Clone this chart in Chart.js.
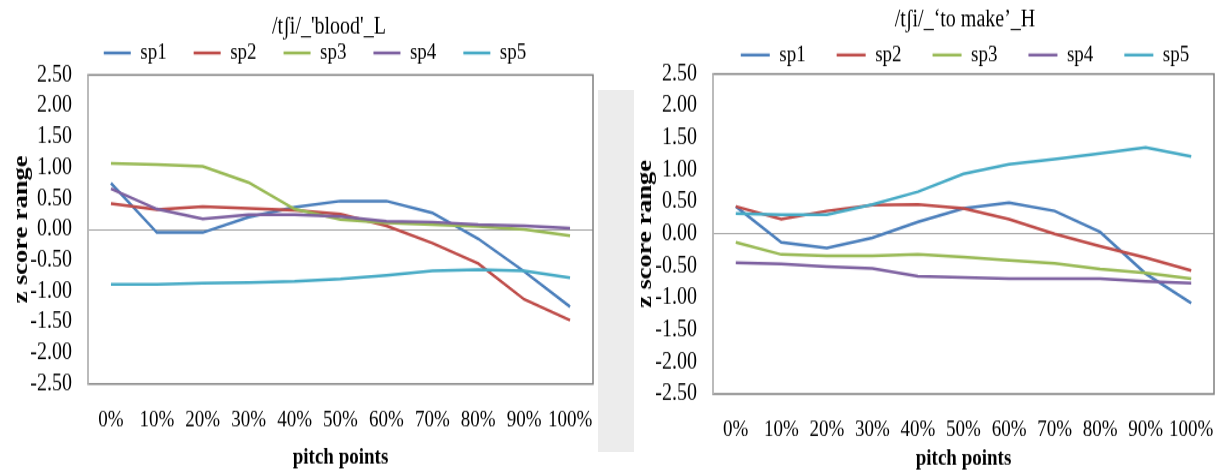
<!DOCTYPE html>
<html>
<head>
<meta charset="utf-8">
<script src="https://cdn.jsdelivr.net/npm/chart.js@4.4.0/dist/chart.umd.min.js"></script>
<style>
  html, body { margin: 0; padding: 0; background: #fff; }
  #page { position: relative; width: 1220px; height: 472px; overflow: hidden; }
  /* the reference text is stretched vertically, so the canvases are drawn short and scaled up */
  canvas { position: absolute; top: 0; transform-origin: 0 0; transform: scaleY(1.201); }
  #left { left: 0; }
  #right { left: 632px; }
  #smudge { position: absolute; left: 598px; top: 90px; width: 36px; height: 362px; background: #ececec; }
</style>
</head>
<body>
<div id="page">
  <div id="smudge"></div>
  <canvas id="left" width="650" height="393"></canvas>
  <canvas id="right" width="666" height="393"></canvas>
</div>
<script>
// 横軸ラベル
const pitchPoints = ['0%', '10%', '20%', '30%', '40%', '50%', '60%', '70%', '80%', '90%', '100%'];
const speakers = ['sp1', 'sp2', 'sp3', 'sp4', 'sp5'];
const speakerColors = ['#4a7ebb', '#be4b48', '#98b954', '#7d60a0', '#46aac5'];

// /tʃi/_'blood'_L
const bloodTitle = "/tʃi/_'blood'_L";
const bloodSp1 = [0.75, -0.05, -0.05, 0.20, 0.36, 0.46, 0.46, 0.27, -0.15, -0.68, -1.25];
const bloodSp2 = [0.42, 0.32, 0.37, 0.34, 0.31, 0.25, 0.06, -0.22, -0.55, -1.13, -1.47];
const bloodSp3 = [1.07, 1.05, 1.02, 0.76, 0.33, 0.16, 0.11, 0.08, 0.05, 0.00, -0.10];
const bloodSp4 = [0.66, 0.33, 0.17, 0.24, 0.24, 0.21, 0.13, 0.12, 0.08, 0.06, 0.02];
const bloodSp5 = [-0.89, -0.89, -0.87, -0.86, -0.84, -0.80, -0.74, -0.67, -0.65, -0.67, -0.78];

// /tʃi/_'to make'_H
const makeTitle = '/tʃi/_‘to make’_H';
const makeSp1 = [0.43, -0.13, -0.22, -0.06, 0.19, 0.40, 0.49, 0.36, 0.03, -0.62, -1.08];
const makeSp2 = [0.43, 0.23, 0.36, 0.45, 0.46, 0.40, 0.23, 0.00, -0.19, -0.37, -0.57];
const makeSp3 = [-0.13, -0.32, -0.34, -0.34, -0.32, -0.36, -0.41, -0.46, -0.55, -0.61, -0.70];
const makeSp4 = [-0.45, -0.47, -0.51, -0.54, -0.66, -0.68, -0.70, -0.70, -0.70, -0.74, -0.77];
const makeSp5 = [0.32, 0.30, 0.30, 0.46, 0.66, 0.94, 1.09, 1.17, 1.26, 1.35, 1.21];

// y軸の目盛り
const zMin = -2.5;
const zMax = 2.5;
const zStep = 0.5;

Chart.defaults.font.family = "'Liberation Serif', 'Times New Roman', serif";
Chart.defaults.color = '#000';

// プロットエリアの枠線
const plotFrame = {
  id: 'plotFrame',
  beforeDatasetsDraw(chart) {
    const { ctx, chartArea: a } = chart;
    ctx.save();
    ctx.lineWidth = 1.5;
    ctx.strokeStyle = '#7f7f7f';
    ctx.strokeRect(a.left, a.top, a.right - a.left, a.bottom - a.top);
    ctx.strokeStyle = '#c4c4c4';
    ctx.beginPath();
    ctx.moveTo(a.left, a.top);
    ctx.lineTo(a.left, a.bottom);
    ctx.stroke();
    ctx.restore();
  }
};

// 凡例の高さと位置を調整する（枠で切らずに描く）
const legendNudge = {
  id: 'legendNudge',
  afterInit(chart, args, opts) {
    const lg = chart.legend;
    if (!lg) return;
    const fit = lg.fit;
    lg.fit = function () { fit.call(this); this.height = opts.height; };
    lg.draw = function () {
      if (!this.options.display) return;
      this.ctx.save();
      this.ctx.translate(opts.dx, opts.dy);
      this._draw();
      this.ctx.restore();
    };
  }
};

function makeChart(canvasId, title, series, box) {
  const datasets = series.map((values, i) => ({
    label: speakers[i],
    data: values,
    borderColor: speakerColors[i],
    backgroundColor: speakerColors[i],
    borderWidth: 2.5,
    pointRadius: 0,
    tension: 0,
    order: series.length - i,
  }));

  const ctx = document.getElementById(canvasId).getContext('2d');
  return new Chart(ctx, {
    type: 'line',
    data: { labels: pitchPoints, datasets: datasets },
    plugins: [plotFrame, legendNudge],
    options: {
      responsive: false,
      animation: false,
      devicePixelRatio: 1,
      layout: { padding: { left: box.padLeft, right: 0, top: 0, bottom: 0 } },
      plugins: {
        title: {
          display: true,
          text: title,
          font: { size: 20, weight: 'normal' },
          padding: { top: box.titleTop, bottom: 0 },
        },
        legend: {
          display: true,
          labels: {
            usePointStyle: true,
            pointStyle: 'line',
            pointStyleWidth: box.swatch,
            padding: box.legendGap,
            font: { size: 19 },
            sort: (a, b) => a.datasetIndex - b.datasetIndex,
          },
        },
        legendNudge: { height: box.legendHeight, dx: box.legendDx, dy: box.legendDy },
        tooltip: { enabled: false },
      },
      scales: {
        x: {
          offset: true,
          grid: { display: false },
          border: { display: false },
          ticks: { font: { size: 19 }, padding: 10.5, maxRotation: 0, autoSkip: false },
          title: {
            display: true,
            text: 'pitch points',
            font: { size: 19, weight: 'bold' },
            padding: { top: 0, bottom: box.xTitleBottom },
          },
          afterFit: (s) => { s.height = box.xHeight; },
        },
        y: {
          min: zMin,
          max: zMax,
          border: { display: false },
          grid: {
            drawTicks: false,
            color: (c) => (c.tick && c.tick.value === 0 ? '#a0a0a0' : 'rgba(0,0,0,0)'),
          },
          ticks: {
            stepSize: zStep,
            autoSkip: false,
            padding: 16,
            font: { size: 20 },
            callback: (v) => Number(v).toFixed(2),
          },
          title: {
            display: true,
            text: 'z score range',
            font: { size: 22, weight: 'bold' },
            padding: { top: 0, bottom: 0 },
          },
          afterFit: (s) => { s.width = box.yWidth; },
        },
        // 右側の空き（タイトルと凡例の中心を合わせるため）
        y2: {
          position: 'right',
          display: true,
          grid: { display: false },
          border: { display: false },
          ticks: { display: false },
          afterFit: (s) => { s.width = box.rightGap; },
        },
      },
    },
  });
}

makeChart('left', bloodTitle, [bloodSp1, bloodSp2, bloodSp3, bloodSp4, bloodSp5], {
  padLeft: 8, yWidth: 80, rightGap: 57,
  titleTop: 10.5, swatch: 27, legendGap: 27, legendHeight: 27.9, legendDx: -14, legendDy: -26.9,
  xHeight: 73.3, xTitleBottom: 1,
});

makeChart('right', makeTitle, [makeSp1, makeSp2, makeSp3, makeSp4, makeSp5], {
  padLeft: 0, yWidth: 81, rightGap: 84,
  titleTop: 4.7, swatch: 29, legendGap: 31, legendHeight: 32.9, legendDx: 0, legendDy: -23.4,
  xHeight: 65, xTitleBottom: 0,
});
</script>
</body>
</html>
